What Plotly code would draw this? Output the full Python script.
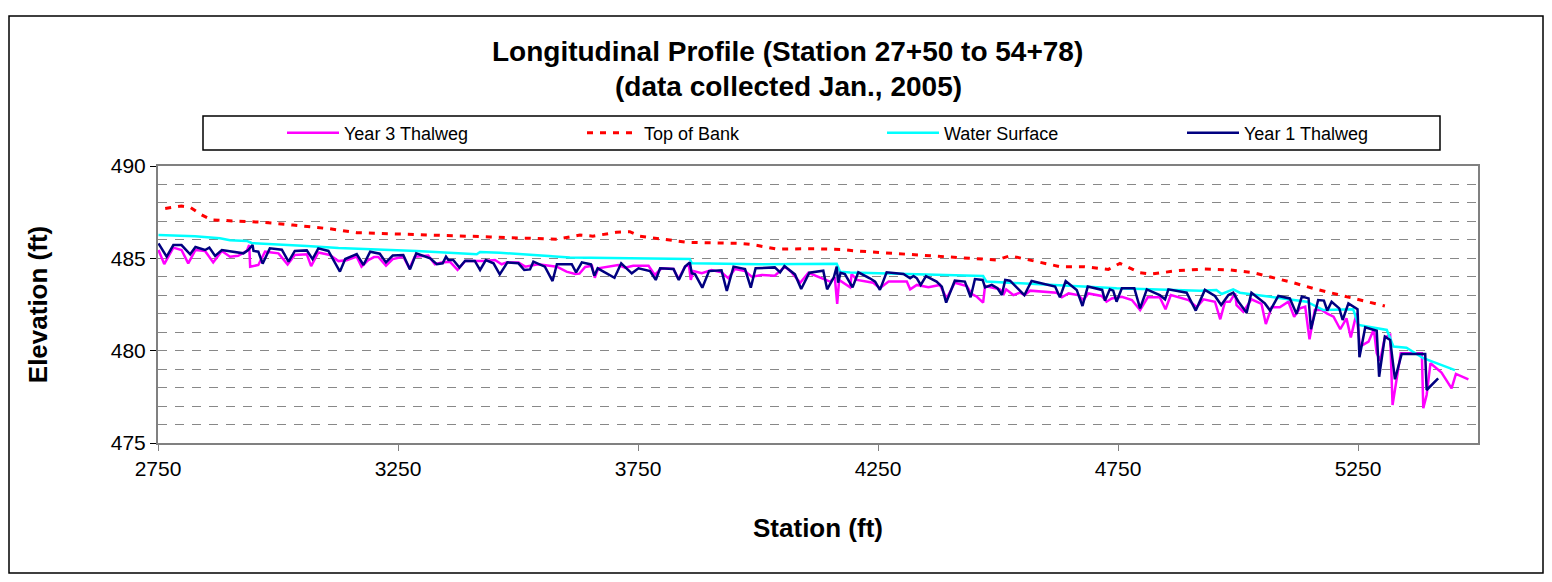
import plotly.graph_objects as go

# Year 3 thalweg (magenta)
y3_station = [2751, 2763, 2782, 2799, 2813, 2828, 2848, 2865, 2883, 2900, 2917, 2935, 2940, 2942,
              2959, 2973, 3001, 3020, 3035, 3060, 3069, 3084, 3108, 3126, 3143, 3164, 3174, 3188,
              3200, 3209, 3225, 3239, 3261, 3274, 3285, 3313, 3327, 3341, 3358, 3374, 3390, 3428,
              3452, 3466, 3476, 3501, 3515, 3542, 3581, 3601, 3619, 3628, 3640, 3654, 3660, 3667,
              3709, 3723, 3740, 3772, 3785, 3799, 3824, 3834, 3848, 3856, 3860, 3865, 3883, 3903,
              3924, 3938, 3952, 3973, 3987, 4008, 4035, 4056, 4070, 4088, 4105, 4150, 4160, 4165,
              4169, 4192, 4195, 4206, 4240, 4254, 4272, 4310, 4317, 4331, 4355, 4379, 4393, 4410,
              4435, 4445, 4456, 4469, 4473, 4504, 4512, 4517, 4532, 4546, 4555, 4567, 4622, 4633,
              4647, 4667, 4678, 4688, 4716, 4726, 4737, 4758, 4779, 4796, 4812, 4837, 4849, 4860,
              4897, 4914, 4928, 4952, 4963, 4973, 4983, 4994, 4997, 5011, 5028, 5049, 5058, 5070,
              5087, 5105, 5117, 5129, 5140, 5149, 5160, 5174, 5185, 5199, 5213, 5226, 5235, 5247,
              5254, 5272, 5283, 5289, 5296, 5306, 5317, 5322, 5339, 5383, 5386, 5393, 5401, 5424,
              5445, 5454, 5480]
y3_elev = [485.45, 484.69, 485.58, 485.45, 484.73, 485.45, 485.40, 484.78, 485.40, 485.09, 485.14,
           485.40, 485.72, 484.55, 484.64, 485.36, 485.27, 484.67, 485.18, 485.22, 484.58, 485.32,
           485.18, 484.85, 484.90, 485.09, 484.55, 484.90, 485.07, 485.07, 484.60, 484.96, 485.09,
           484.46, 485.09, 485.15, 484.68, 484.78, 484.82, 484.37, 484.86, 484.86, 484.91, 484.68,
           484.78, 484.78, 484.55, 484.68, 484.55, 484.28, 484.15, 484.17, 484.53, 484.60, 483.95,
           484.46, 484.64, 484.49, 484.60, 484.60, 484.10, 484.46, 484.42, 483.88, 484.55, 484.64,
           483.83, 484.31, 484.19, 484.37, 484.24, 483.92, 484.42, 484.31, 484.01, 484.10, 484.06,
           484.55, 484.24, 483.68, 484.22, 483.74, 483.97, 482.53, 483.83, 483.43, 484.15, 483.83,
           483.68, 483.38, 483.74, 483.74, 483.32, 483.56, 483.43, 483.56, 482.83, 483.68, 483.50,
           483.07, 482.92, 482.60, 483.50, 483.32, 483.07, 483.32, 483.01, 483.14, 483.01, 483.25,
           483.14, 482.89, 483.10, 483.01, 482.74, 483.10, 482.96, 482.65, 482.83, 482.92, 482.74,
           482.20, 482.89, 482.89, 482.24, 483.01, 482.74, 482.35, 482.78, 482.65, 481.70, 482.65,
           482.65, 483.10, 482.47, 482.11, 482.78, 482.53, 481.44, 482.35, 482.35, 482.65, 481.84,
           482.29, 482.38, 480.62, 482.20, 482.20, 482.02, 481.84, 481.16, 481.75, 480.72, 482.02,
           480.22, 480.49, 481.16, 479.86, 479.46, 480.72, 480.85, 477.06, 479.86, 479.86, 476.88,
           477.60, 479.32, 478.81, 477.96, 478.74, 478.45]

# Top of bank (red dotted)
bank_station = [2765, 2799, 2817, 2841, 2862, 2914, 2969, 3031, 3108, 3164, 3247, 3330, 3442,
                3581, 3629, 3656, 3705, 3733, 3754, 3802, 3851, 3962, 3990, 4039, 4122, 4178,
                4198, 4281, 4393, 4497, 4525, 4581, 4629, 4678, 4730, 4754, 4796, 4820, 4872,
                4928, 4983, 5032, 5060, 5115, 5164, 5226, 5275, 5306]
bank_elev = [487.70, 487.83, 487.76, 487.35, 487.08, 487.02, 486.95, 486.80, 486.60, 486.39,
             486.30, 486.25, 486.16, 486.03, 486.26, 486.20, 486.41, 486.44, 486.20, 486.03,
             485.87, 485.81, 485.74, 485.50, 485.52, 485.47, 485.41, 485.27, 485.09, 484.91,
             485.14, 484.82, 484.55, 484.55, 484.40, 484.73, 484.22, 484.15, 484.33, 484.42,
             484.37, 484.22, 484.04, 483.68, 483.32, 482.92, 482.60, 482.42]

# Water surface (cyan)
ws_station = [2751, 2827, 2879, 2900, 2935, 2945, 3060, 3126, 3289, 3414, 3421, 3462, 3608,
              3740, 3858, 3862, 4004, 4164, 4171, 4192, 4469, 4476, 4747, 4921, 4955, 4966,
              4990, 5004, 5115, 5143, 5178, 5240, 5251, 5310, 5324, 5351, 5386, 5421, 5452]
ws_elev = [486.26, 486.20, 486.09, 485.98, 485.94, 485.83, 485.67, 485.56, 485.40, 485.22,
           485.34, 485.30, 485.05, 485.00, 484.96, 484.73, 484.68, 484.70, 484.28, 484.23,
           484.04, 483.74, 483.38, 483.25, 483.29, 483.07, 483.32, 483.14, 482.78, 482.65,
           482.20, 482.24, 481.39, 481.12, 480.22, 480.16, 479.59, 479.23, 478.95]

# Year 1 thalweg (navy)
y1_station = [2751, 2768, 2782, 2799, 2817, 2828, 2848, 2857, 2869, 2883, 2928, 2938, 2947, 2949,
              2959, 2968, 2983, 3008, 3022, 3035, 3060, 3072, 3084, 3105, 3129, 3140, 3164, 3178,
              3192, 3212, 3225, 3239, 3261, 3275, 3288, 3317, 3331, 3343, 3350, 3355, 3365, 3378,
              3390, 3410, 3421, 3433, 3449, 3462, 3478, 3501, 3513, 3525, 3532, 3556, 3572, 3581,
              3612, 3621, 3633, 3652, 3659, 3666, 3701, 3715, 3737, 3751, 3775, 3787, 3796, 3824,
              3835, 3848, 3858, 3862, 3869, 3884, 3898, 3924, 3935, 3949, 3973, 3985, 3995, 4035,
              4046, 4055, 4077, 4090, 4107, 4136, 4144, 4158, 4164, 4167, 4172, 4181, 4197, 4209,
              4233, 4244, 4254, 4268, 4303, 4317, 4324, 4331, 4339, 4350, 4372, 4383, 4392, 4410,
              4431, 4443, 4452, 4468, 4473, 4487, 4499, 4508, 4515, 4525, 4555, 4570, 4619, 4629,
              4641, 4664, 4676, 4687, 4717, 4723, 4733, 4740, 4747, 4758, 4784, 4796, 4810, 4837,
              4848, 4855, 4893, 4912, 4931, 4952, 4965, 4980, 4990, 5001, 5018, 5028, 5056, 5067,
              5084, 5108, 5122, 5133, 5147, 5152, 5167, 5179, 5186, 5195, 5211, 5218, 5230, 5249,
              5253, 5265, 5289, 5294, 5306, 5317, 5327, 5341, 5390, 5393, 5417]
y1_elev = [485.81, 485.09, 485.72, 485.72, 485.22, 485.61, 485.45, 485.58, 485.13, 485.45, 485.27,
           485.45, 485.72, 485.40, 485.36, 484.71, 485.54, 485.47, 484.82, 485.40, 485.43, 484.96,
           485.54, 485.40, 484.28, 484.96, 485.23, 484.64, 485.36, 485.25, 484.78, 485.15, 485.18,
           484.40, 485.27, 485.00, 484.68, 484.73, 485.09, 484.91, 484.91, 484.50, 484.87, 484.86,
           484.37, 484.91, 484.73, 484.13, 484.78, 484.73, 484.37, 484.40, 484.82, 484.55, 483.77,
           484.68, 484.68, 484.24, 484.78, 484.67, 484.06, 484.46, 483.95, 484.73, 484.19, 484.46,
           484.31, 483.83, 484.46, 484.42, 483.83, 484.55, 484.78, 484.19, 484.13, 483.41, 484.31,
           484.35, 483.23, 484.55, 484.42, 483.41, 484.46, 484.51, 484.24, 484.58, 484.13, 483.34,
           484.22, 484.33, 483.32, 483.97, 484.55, 483.68, 484.22, 484.15, 483.43, 484.24, 483.92,
           483.74, 483.29, 484.24, 484.15, 483.92, 484.04, 483.92, 483.56, 484.04, 483.74, 483.47,
           482.60, 483.79, 483.74, 482.89, 483.88, 483.83, 483.43, 483.56, 483.38, 483.01, 483.83,
           483.79, 483.01, 483.77, 483.47, 482.89, 483.77, 483.29, 482.42, 483.47, 483.29, 482.71,
           483.32, 483.25, 482.65, 483.38, 483.38, 482.29, 483.32, 483.01, 482.78, 483.32, 483.14,
           482.17, 483.29, 482.96, 482.47, 483.01, 483.14, 482.65, 482.06, 483.14, 482.56, 482.17,
           482.96, 482.83, 481.99, 482.93, 482.83, 481.16, 482.74, 482.71, 482.17, 482.65, 482.29,
           481.66, 482.56, 482.24, 479.64, 481.26, 481.08, 478.59, 480.76, 480.58, 478.45, 479.82,
           479.82, 477.87, 478.50]

FONT = "Liberation Sans, Arial, sans-serif"

fig = go.Figure()
fig.add_trace(go.Scatter(x=y3_station, y=y3_elev, mode="lines", name="Year 3 Thalweg",
                         line=dict(color="#FF00FF", width=2.5)))
fig.add_trace(go.Scatter(x=bank_station, y=bank_elev, mode="lines", name="Top of Bank",
                         line=dict(color="#FF0000", width=3, dash="6px,7px")))
fig.add_trace(go.Scatter(x=ws_station, y=ws_elev, mode="lines", name="Water Surface",
                         line=dict(color="#00FFFF", width=2.5)))
fig.add_trace(go.Scatter(x=y1_station, y=y1_elev, mode="lines", name="Year 1 Thalweg",
                         line=dict(color="#000080", width=2.5)))

# page positions (the page body adds 8px): plot area spans x 158..1478, y 166..443
def px(x):
    return (x - 158) / 1320

def py(y):
    return (443 - y) / 277

fig.update_layout(
    width=1536, height=566,
    margin=dict(l=150, r=66, t=158, b=131),
    paper_bgcolor="white", plot_bgcolor="white",
    font=dict(family=FONT, color="black"),
    showlegend=True,
    legend=dict(orientation="h", x=px(282), xanchor="left", y=py(133), yanchor="middle",
                font=dict(size=18), itemwidth=52, entrywidth=233, entrywidthmode="pixels",
                bgcolor="rgba(0,0,0,0)"),
    xaxis=dict(range=[2750, 5500], tick0=2750, dtick=500, showgrid=False, zeroline=False,
               ticks="outside", ticklen=6, tickcolor="#808080", tickfont=dict(size=21),
               showline=True, linecolor="#808080", linewidth=2, mirror=True,
               title=dict(text="<b>Station (ft)</b>", font=dict(size=26), standoff=40)),
    yaxis=dict(range=[475, 490], tick0=475, dtick=5, zeroline=False,
               showgrid=True, gridcolor="#888888", gridwidth=1, griddash="9px,8px",
               minor=dict(dtick=1, showgrid=True, gridcolor="#888888", gridwidth=1,
                          griddash="9px,8px"),
               ticks="outside", ticklen=6, tickcolor="black", tickfont=dict(size=21),
               showline=True, linecolor="#808080", linewidth=2, mirror=True,
               title=dict(text="<b>Elevation (ft)</b>", font=dict(size=26), standoff=56)),
    shapes=[
        dict(type="rect", xref="paper", yref="paper", x0=px(9), x1=px(1543), y0=py(573), y1=py(16),
             line=dict(color="black", width=1.5), layer="below"),
        dict(type="rect", xref="paper", yref="paper", x0=px(203), x1=px(1440), y0=py(150), y1=py(116),
             line=dict(color="black", width=1.5)),
    ],
    annotations=[
        dict(text="<b>Longitudinal Profile (Station 27+50 to 54+78)</b>", xref="paper", yref="paper",
             x=px(787), y=py(52), xanchor="center", yanchor="middle", showarrow=False,
             font=dict(size=28)),
        dict(text="<b>(data collected Jan., 2005)</b>", xref="paper", yref="paper",
             x=px(788), y=py(87), xanchor="center", yanchor="middle", showarrow=False,
             font=dict(size=28)),
    ],
)

fig.write_html("out.html")
